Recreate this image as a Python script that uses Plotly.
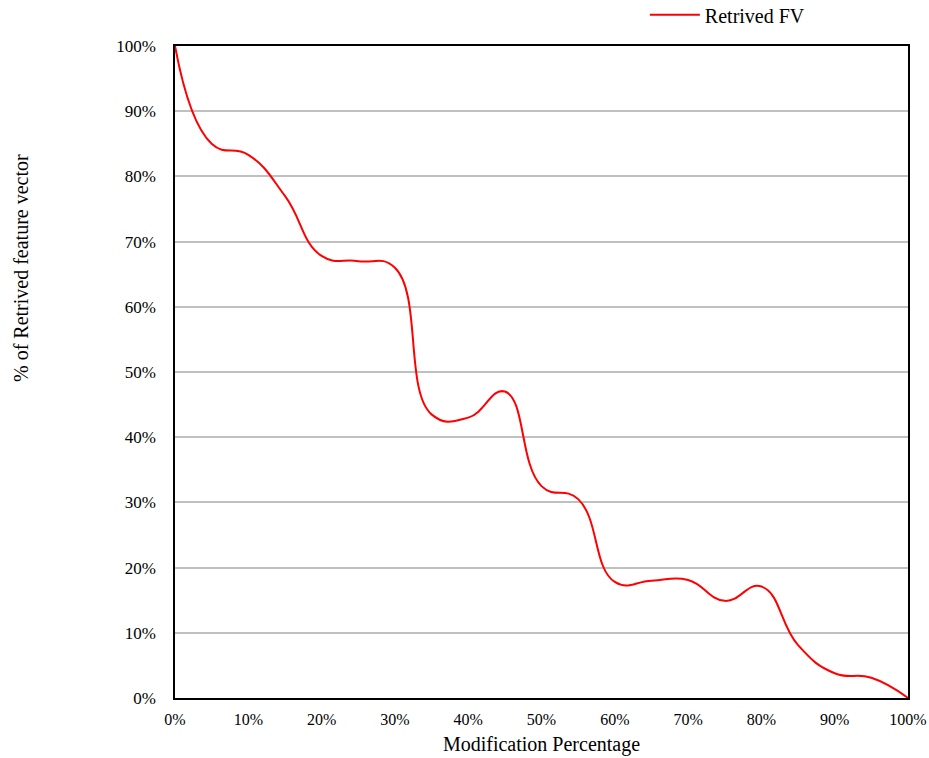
import plotly.graph_objects as go

# Modification percentage (x) and share of feature vectors retrieved (y), in percent
modification_pct = [0, 5, 10, 15, 20, 25, 30, 35, 40, 45, 50,
                    55, 60, 65, 70, 75, 80, 85, 90, 95, 100]
retrieved_pct = [100, 85, 83.3, 77, 67.8, 67, 66, 43.5, 43, 47, 32.5,
                 30.5, 17.8, 18, 18.1, 14.9, 17.1, 8.1, 3.8, 3.1, 0]

tick_vals = list(range(0, 101, 10))
tick_text = [f"{v}%" for v in tick_vals]

SERIF = "Liberation Serif"

fig = go.Figure()
fig.add_trace(go.Scatter(
    x=modification_pct,
    y=retrieved_pct,
    mode="lines",
    name="Retrived FV",
    line=dict(color="#ff0000", width=2, shape="spline", smoothing=1.3),
))

fig.update_layout(
    width=929,
    height=758,
    margin=dict(l=175, r=21, t=46, b=60, autoexpand=False),
    paper_bgcolor="white",
    plot_bgcolor="white",
    font=dict(family=SERIF, size=17, color="#000000"),
    showlegend=True,
    legend=dict(
        x=0.641, y=1.048, xanchor="left", yanchor="middle",
        itemwidth=50,
        font=dict(family=SERIF, size=20, color="#000000"),
        bgcolor="rgba(0,0,0,0)",
    ),
    xaxis=dict(
        range=[0, 100],
        tickvals=tick_vals,
        ticktext=tick_text,
        showgrid=False,
        zeroline=False,
        showline=True,
        linecolor="#000000",
        linewidth=1.5,
        mirror=True,
        ticks="",
        ticklabelstandoff=6,
        tickfont=dict(family=SERIF, size=16),
        title=dict(text="Modification Percentage",
                   font=dict(family=SERIF, size=20), standoff=10),
    ),
    yaxis=dict(
        range=[0, 100],
        tickvals=tick_vals,
        ticktext=tick_text,
        showgrid=True,
        gridcolor="#c0c0c0",
        gridwidth=1.5,
        zeroline=False,
        showline=True,
        linecolor="#000000",
        linewidth=1.5,
        mirror=True,
        ticks="",
        ticklabelstandoff=14,
        tickfont=dict(family=SERIF, size=17),
    ),
    annotations=[dict(
        text="% of Retrived feature vector",
        xref="paper", yref="paper",
        x=-0.211, y=0.66,
        xanchor="center", yanchor="middle",
        textangle=-90,
        showarrow=False,
        font=dict(family=SERIF, size=20, color="#000000"),
    )],
)

fig.write_html("out.html")
